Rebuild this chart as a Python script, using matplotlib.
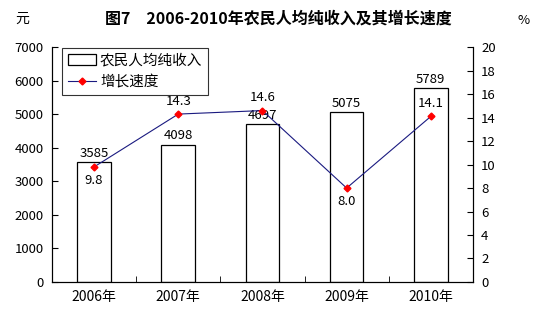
import matplotlib
matplotlib.use("Agg")
import matplotlib.pyplot as plt
from matplotlib.lines import Line2D
from matplotlib.patches import Patch

plt.rcParams['font.family'] = ['Noto Sans CJK SC', 'DejaVu Sans']

years = ["2006年", "2007年", "2008年", "2009年", "2010年"]
income = [3585, 4098, 4697, 5075, 5789]
growth = [9.8, 14.3, 14.6, 8.0, 14.1]
growth_label_above = [False, True, True, False, True]

LINE_COLOR = "#1a1a80"
FS = 9.5

fig = plt.figure(figsize=(5.59, 3.23), dpi=100)
ax = fig.add_axes([0.093, 0.127, 0.753, 0.727])
ax2 = ax.twinx()

x = list(range(len(years)))
ax.bar(x, income, width=0.4, facecolor="white", edgecolor="black", linewidth=0.9, zorder=2)
for xi, v in zip(x, income):
    ax.text(xi, v + 60, f"{v}", ha="center", va="bottom", fontsize=FS)

ax.set_xlim(-0.5, len(years) - 0.5)
ax.set_ylim(0, 7000)
ax.set_yticks(range(0, 7001, 1000))
ax.set_xticks(x)
ax.set_xticklabels(years, fontsize=FS + 0.5)
ax.set_xticks([i + 0.5 for i in x[:-1]], minor=True)
ax.tick_params(axis="x", which="major", length=0, pad=6)
ax.tick_params(axis="x", which="minor", direction="in", length=4)
ax.tick_params(axis="y", direction="in", length=4, labelsize=FS, pad=6)
ax.spines["top"].set_visible(False)
ax2.spines["top"].set_visible(False)

ax2.plot(x, growth, color=LINE_COLOR, linewidth=0.8, marker="D", markersize=3.5,
         markerfacecolor="red", markeredgecolor="red", zorder=3)
for xi, v, up in zip(x, growth, growth_label_above):
    if up:
        ax2.text(xi, v + 0.55, f"{v:.1f}", ha="center", va="bottom", fontsize=FS)
    else:
        ax2.text(xi, v - 0.6, f"{v:.1f}", ha="center", va="top", fontsize=FS)
ax2.set_ylim(0, 20)
ax2.set_yticks(range(0, 21, 2))
ax2.tick_params(axis="y", direction="in", length=4, labelsize=FS, pad=6)

handles = [Patch(facecolor="white", edgecolor="black", linewidth=0.9),
           Line2D([0], [0], color=LINE_COLOR, linewidth=0.8, marker="D", markersize=3.5,
                  markerfacecolor="red", markeredgecolor="red")]
leg = ax.legend(handles, ["农民人均纯收入", "增长速度"], loc="upper left",
                bbox_to_anchor=(0.024, 0.997), fontsize=10.5, frameon=True, fancybox=False,
                borderpad=0.4, labelspacing=0.5, handlelength=1.9, handletextpad=0.3,
                borderaxespad=0.0)
leg.get_frame().set_edgecolor("black")
leg.get_frame().set_linewidth(0.8)

fig.text(0.498, 0.942, "图7　2006-2010年农民人均纯收入及其增长速度", ha="center", va="center",
         fontsize=11.5, fontweight="bold")
fig.text(0.04, 0.942, "元", ha="center", va="center", fontsize=10)
fig.text(0.937, 0.938, "%", ha="center", va="center", fontsize=9.5)

fig.savefig("out.png", dpi=100)
